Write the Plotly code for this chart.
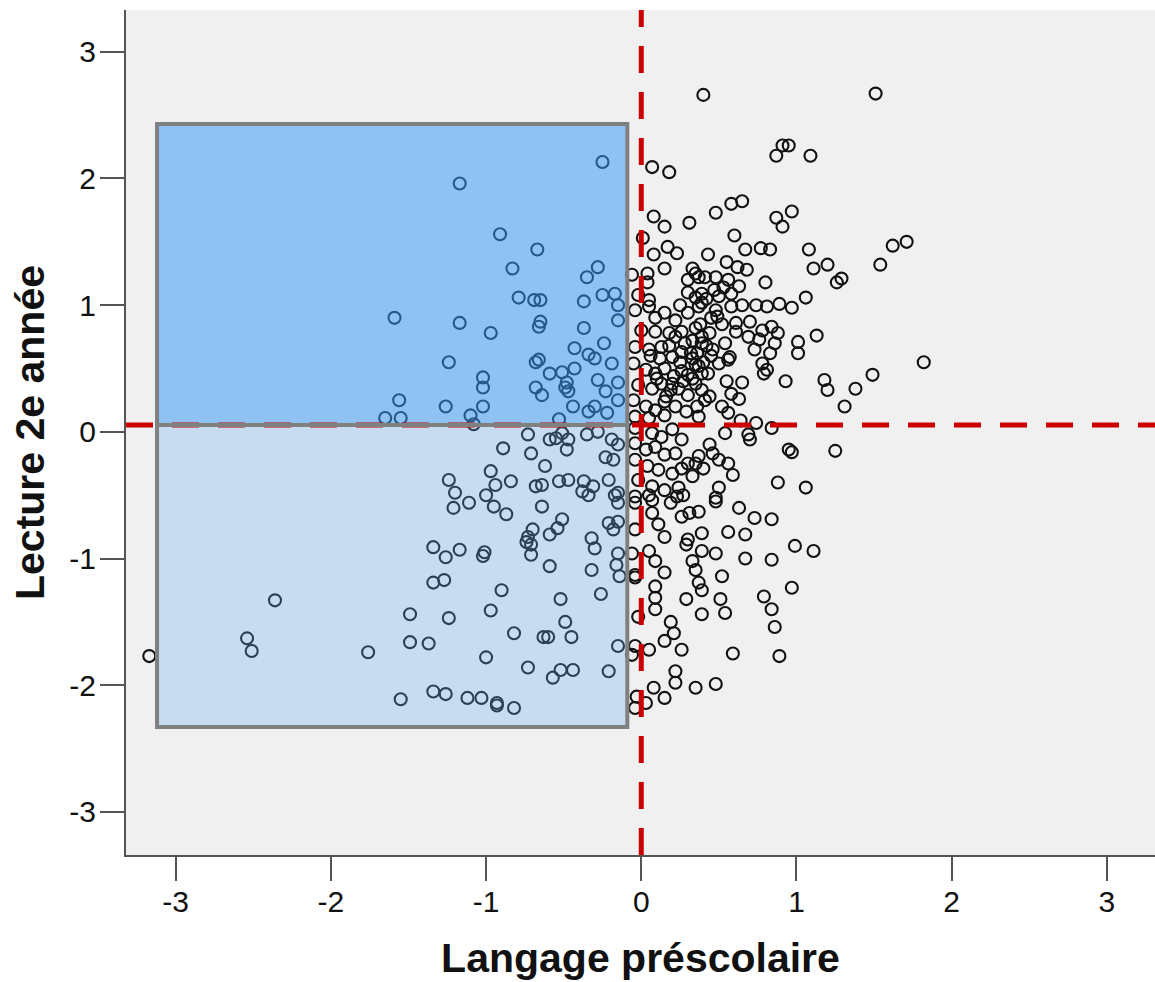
import plotly.graph_objects as go

# ---------------- data (x = Langage préscolaire, y = Lecture 2e année) ----------------
far_left_x = [-3.17, -2.54, -2.51, -2.36, -1.76, -1.65, -1.59, -1.56, -1.55, -1.55, -1.49, -1.49]
far_left_y = [-1.77, -1.63, -1.73, -1.33, -1.74, 0.11, 0.90, 0.25, 0.11, -2.11, -1.44, -1.66]

mid_low_x = [-1.26, -1.02, -1.10, -1.08, -0.73, -0.59, -0.55, -0.89, -0.71, -0.62, -0.97, -1.24, -0.84, -0.94,
             -0.68, -0.64, -1.20, -1.00, -1.11, -1.21, -0.95, -0.87, -0.64, -0.53, -0.70, -0.73, -0.74, -0.71,
             -0.59, -0.71, -1.34, -1.17, -1.26, -1.01, -1.02, -0.59, -1.34, -1.27, -0.90, -0.97, -1.24, -0.52,
             -0.82, -0.63, -0.60, -1.37, -1.00, -0.73, -0.57, -1.34, -1.26, -1.12, -1.03, -0.93, -0.93, -0.82]
mid_low_y = [0.20, 0.20, 0.13, 0.06, -0.02, -0.06, -0.05, -0.13, -0.17, -0.27, -0.31, -0.38, -0.39, -0.42,
             -0.43, -0.42, -0.48, -0.50, -0.56, -0.60, -0.59, -0.65, -0.59, -0.39, -0.77, -0.83, -0.87, -0.89,
             -0.81, -0.97, -0.91, -0.93, -0.99, -0.95, -0.98, -1.06, -1.19, -1.17, -1.25, -1.41, -1.47, -1.32,
             -1.59, -1.62, -1.62, -1.67, -1.78, -1.86, -1.94, -2.05, -2.07, -2.10, -2.10, -2.14, -2.16, -2.18]

mid_high_x = [-1.17, -0.91, -0.67, -0.83, -0.79, -0.69, -0.65, -1.17, -0.97, -0.65, -0.66, -1.24, -1.02, -1.02,
              -0.68, -0.66, -0.59, -0.68, -0.64]
mid_high_y = [1.96, 1.56, 1.44, 1.29, 1.06, 1.04, 1.04, 0.86, 0.78, 0.87, 0.83, 0.55, 0.43, 0.35,
              0.55, 0.57, 0.46, 0.35, 0.29]

top_center_x = [-0.25, 0.07, 0.18, 0.08, 0.15, 0.31, 0.01, -0.28, -0.35, 0.08, 0.17, 0.23, 0.15, 0.33,
                -0.06, 0.04, 0.04, 0.30, 0.37, -0.37, -0.25, -0.17, -0.02, 0.05, 0.35, 0.39, -0.15]
top_center_y = [2.13, 2.09, 2.05, 1.70, 1.62, 1.65, 1.53, 1.30, 1.22, 1.40, 1.46, 1.41, 1.29, 1.29,
                1.24, 1.25, 1.18, 1.20, 1.22, 1.03, 1.08, 1.09, 1.08, 1.04, 1.06, 1.02, 1.00]

near_left_x = [-0.37, -0.15, -0.24, -0.43, -0.30, -0.34, -0.19, -0.43, -0.51, -0.48, -0.49, -0.47, -0.28,
               -0.23, -0.15, -0.44, -0.34, -0.30, -0.15, -0.22, -0.53,
               -0.51, -0.47, -0.48, -0.35, -0.28, -0.19, -0.15, -0.23, -0.18, -0.47, -0.37, -0.31, -0.21, -0.15]
near_left_y = [0.82, 0.88, 0.70, 0.66, 0.58, 0.61, 0.54, 0.50, 0.47, 0.39, 0.35, 0.32, 0.41,
               0.32, 0.39, 0.20, 0.16, 0.20, 0.25, 0.15, 0.10,
               -0.01, -0.06, -0.14, -0.02, 0.00, -0.06, -0.10, -0.20, -0.22, -0.38, -0.39, -0.43, -0.38, -0.48]

core_x = [-0.04, 0.05, 0.09, 0.15, 0.22, 0.30, 0.00, 0.09, 0.18, 0.26, 0.35, 0.39, -0.04, 0.05, 0.13,
          0.20, 0.26, 0.33, -0.05, 0.03, 0.09, 0.15, 0.21, 0.26, 0.33, 0.39, -0.02, 0.07, 0.13, 0.19,
          0.24, 0.30, -0.05, 0.03, 0.09, 0.15, 0.22, 0.29, 0.36, -0.04, 0.05, 0.15, -0.04, 0.07, 0.13,
          0.20, 0.26, -0.04, 0.03, 0.09, 0.15, 0.22, 0.30, 0.37, -0.04, 0.04, 0.11, 0.20, 0.26, 0.33,
          -0.02, 0.07, 0.15, 0.24, -0.04, 0.05]
core_y = [0.96, 0.99, 0.90, 0.94, 0.88, 0.94, 0.80, 0.79, 0.78, 0.79, 0.82, 0.75, 0.67, 0.65, 0.67,
          0.59, 0.63, 0.58, 0.54, 0.49, 0.46, 0.50, 0.44, 0.48, 0.42, 0.46, 0.37, 0.34, 0.38, 0.33,
          0.34, 0.29, 0.25, 0.20, 0.17, 0.24, 0.20, 0.16, 0.20, 0.12, 0.11, 0.13, 0.03, -0.01, -0.04,
          0.02, -0.06, -0.09, -0.14, -0.12, -0.18, -0.17, -0.25, -0.19, -0.22, -0.27, -0.30, -0.33, -0.29, -0.35,
          -0.38, -0.43, -0.46, -0.44, -0.51, -0.50]

core_extra_x = [0.25, 0.28, 0.32, 0.18, 0.12, 0.22, 0.30, 0.35, 0.40, 0.42, 0.45, 0.27, 0.20, 0.16, 0.10,
                0.06, 0.33, 0.38, 0.45, 0.52, 0.42, 0.47, 0.53, 0.30, 0.25]
core_extra_y = [0.55, 0.70, 0.62, 0.68, 0.58, 0.75, 0.45, 0.53, 0.55, 0.68, 0.60, 0.40, 0.38, 0.28, 0.42,
                0.60, 0.72, 0.85, 0.90, 0.85, 1.05, 1.12, 1.14, 1.10, 1.00]

low_left_x = [-0.38, -0.34, -0.17, -0.15, -0.51, -0.54, -0.21, -0.18, -0.15, -0.32, -0.30, -0.15, -0.16,
              -0.32, -0.14, -0.26, -0.49, -0.45, -0.52, -0.44, -0.21, -0.15]
low_left_y = [-0.47, -0.50, -0.50, -0.56, -0.69, -0.76, -0.72, -0.77, -0.71, -0.84, -0.92, -0.96, -1.05,
              -1.09, -1.14, -1.28, -1.50, -1.62, -1.88, -1.88, -1.89, -1.69]

low_right_x = [-0.04, 0.07, 0.07, 0.19, 0.23, 0.27, 0.11, 0.15, 0.26, 0.31, 0.37, 0.39, -0.04, 0.30, 0.29,
               0.05, -0.06, 0.09, 0.15, -0.04, 0.33, 0.35, 0.09, 0.09, 0.37, 0.39, -0.04, 0.29, 0.39, 0.09,
               -0.02, 0.19, 0.21, 0.15, 0.26, 0.05, -0.04, -0.06, 0.22, 0.22, 0.08, 0.15, 0.35, -0.03,
               -0.04, 0.03]
low_right_y = [-0.56, -0.54, -0.64, -0.56, -0.51, -0.50, -0.73, -0.83, -0.67, -0.64, -0.63, -0.80, -0.77,
               -0.85, -0.89, -0.94, -0.96, -1.02, -1.11, -1.13, -1.02, -1.09, -1.22, -1.31, -1.19, -1.25,
               -1.15, -1.32, -1.44, -1.40, -1.46, -1.50, -1.59, -1.65, -1.72, -1.72, -1.69, -1.76, -1.89,
               -1.98, -2.02, -2.10, -2.02, -2.09, -2.18, -2.14]

upper_right_x = [0.40, 1.51, 0.48, 0.58, 0.65, 0.60, 0.67, 0.77, 0.83, 0.43, 0.55, 0.62, 0.68, 0.80, 1.08,
                 1.11, 1.20, 1.26, 1.29, 1.06, 0.87, 0.91, 0.97, 0.87, 0.91, 0.95, 1.09,
                 1.71, 1.62, 1.54, 1.82, 1.49, 1.38, 1.31, 1.25,
                 0.35, 0.41, 0.48, 0.56, 0.63, 0.39, 0.50, 0.58]
upper_right_y = [2.66, 2.67, 1.73, 1.80, 1.82, 1.55, 1.44, 1.45, 1.44, 1.40, 1.34, 1.30, 1.28, 1.18, 1.44,
                 1.29, 1.32, 1.18, 1.21, 1.06, 1.69, 1.62, 1.74, 2.18, 2.26, 2.26, 2.18,
                 1.50, 1.47, 1.32, 0.55, 0.45, 0.34, 0.20, -0.15,
                 1.25, 1.22, 1.22, 1.20, 1.15, 1.09, 1.07, 1.09]

right_mid_x = [0.37, 0.48, 0.49, 0.58, 0.65, 0.74, 0.81, 0.89, 0.97, 0.61, 0.61, 0.70, 0.69, 0.78, 0.84,
               0.88, 0.76, 0.86, 0.73, 0.83, 1.01, 1.01, 1.13, 0.44, 0.39, 0.46, 0.54, 0.57, 0.36, 0.37,
               0.43, 0.50, 0.56, 0.78, 0.81, 0.79, 0.35, 0.39, 0.44, 0.55, 0.65, 0.58, 0.63, 0.93, 1.18,
               1.20, 0.41, 0.37, 0.52, 0.56, 0.64, 0.74, 0.84, 0.54, 0.69, 0.70, 0.44, 0.46, 0.50, 0.56,
               0.59, 0.40, 0.35, 0.50, 0.48, 0.95, 0.97, 0.88, 1.06]
right_mid_y = [0.99, 0.96, 0.91, 0.99, 1.00, 1.00, 0.99, 1.01, 0.98, 0.86, 0.79, 0.87, 0.75, 0.80, 0.83,
               0.78, 0.73, 0.70, 0.65, 0.62, 0.71, 0.62, 0.76, 0.78, 0.70, 0.65, 0.70, 0.59, 0.62, 0.52,
               0.46, 0.54, 0.57, 0.54, 0.49, 0.46, 0.38, 0.33, 0.28, 0.40, 0.39, 0.30, 0.26, 0.40, 0.41,
               0.33, 0.25, 0.12, 0.20, 0.15, 0.09, 0.07, 0.03, -0.01, -0.02, -0.06, -0.10, -0.17, -0.22, -0.25,
               -0.34, -0.29, -0.25, -0.44, -0.52, -0.14, -0.16, -0.40, -0.44]

right_low_x = [0.48, 0.63, 0.73, 0.84, 0.56, 0.67, 0.39, 0.48, 0.67, 0.84, 0.99, 1.11, 0.52, 0.97, 0.79,
               0.84, 0.51, 0.54, 0.86, 0.59, 0.89, 0.48]
right_low_y = [-0.55, -0.60, -0.68, -0.69, -0.79, -0.81, -0.94, -0.96, -1.00, -1.01, -0.90, -0.94, -1.14,
               -1.23, -1.30, -1.40, -1.32, -1.43, -1.54, -1.75, -1.77, -1.99]

x_groups = [far_left_x, mid_low_x, mid_high_x, top_center_x, near_left_x, core_x, core_extra_x,
            low_left_x, low_right_x, upper_right_x, right_mid_x, right_low_x]
y_groups = [far_left_y, mid_low_y, mid_high_y, top_center_y, near_left_y, core_y, core_extra_y,
            low_left_y, low_right_y, upper_right_y, right_mid_y, right_low_y]
x_all = [v for g in x_groups for v in g]
y_all = [v for g in y_groups for v in g]

tick_vals = [-3, -2, -1, 0, 1, 2, 3]
tick_text = ["-3", "-2", "-1", "0", "1", "2", "3"]

# reference lines (means) and highlighted boxes
mean_x = 0.0
mean_y = 0.055
box_x0, box_x1 = -3.12, -0.09
box_top, box_bottom = 2.43, -2.33

FONT = "Liberation Sans, Arial, sans-serif"

fig = go.Figure()
fig.add_trace(go.Scatter(
    x=x_all, y=y_all, mode="markers",
    marker=dict(symbol="circle-open", size=12, color="#111111", line=dict(width=2.1, color="#111111")),
    showlegend=False, hoverinfo="skip"))

shapes = [
    dict(type="rect", xref="x", yref="y", x0=box_x0, x1=box_x1, y0=mean_y, y1=box_top,
         fillcolor="rgb(57,152,245)", opacity=0.53, line=dict(width=0), layer="above"),
    dict(type="rect", xref="x", yref="y", x0=box_x0, x1=box_x1, y0=box_bottom, y1=mean_y,
         fillcolor="rgb(107,177,243)", opacity=0.30, line=dict(width=0), layer="above"),
    dict(type="line", xref="x", yref="paper", x0=mean_x, x1=mean_x, y0=0, y1=1,
         line=dict(color="#CC0000", width=5, dash="27px,19px"), layer="above"),
    dict(type="line", xref="paper", yref="y", x0=0, x1=1, y0=mean_y, y1=mean_y,
         line=dict(color="#CC0000", width=5, dash="27px,19px"), layer="above"),
    dict(type="rect", xref="x", yref="y", x0=box_x0, x1=box_x1, y0=mean_y, y1=box_top,
         fillcolor="rgba(0,0,0,0)", line=dict(color="#808080", width=4), layer="above"),
    dict(type="rect", xref="x", yref="y", x0=box_x0, x1=box_x1, y0=box_bottom, y1=mean_y,
         fillcolor="rgba(0,0,0,0)", line=dict(color="#808080", width=4), layer="above"),
]

axis_common = dict(
    showgrid=False, zeroline=False, showline=True, linecolor="#555555", linewidth=2,
    ticks="outside", ticklen=24, tickwidth=2, tickcolor="#555555",
    tickvals=tick_vals, ticktext=tick_text,
    tickfont=dict(family=FONT, size=30, color="#111111"),
)

fig.update_layout(
    width=1155, height=982,
    margin=dict(l=126, r=0, t=10, b=127),
    paper_bgcolor="white", plot_bgcolor="#F0F0F0",
    shapes=shapes,
    xaxis=dict(range=[-3.32, 3.31], automargin=False, ticklabelstandoff=-5,
               title=dict(text="Langage préscolaire", standoff=26,
                          font=dict(family=FONT, size=41, color="#111111", weight="bold")),
               **axis_common),
    yaxis=dict(range=[-3.34, 3.33], automargin=False, ticklabelstandoff=-2,
               title=dict(text="Lecture 2e année", standoff=12,
                          font=dict(family=FONT, size=41, color="#111111", weight="bold")),
               **axis_common),
)

# remove the default page margin so the figure fills the window exactly; hide the mode bar
fig.write_html("out.html", config={"displayModeBar": False},
               post_script="document.body.style.margin='0';document.body.style.overflow='hidden';")
